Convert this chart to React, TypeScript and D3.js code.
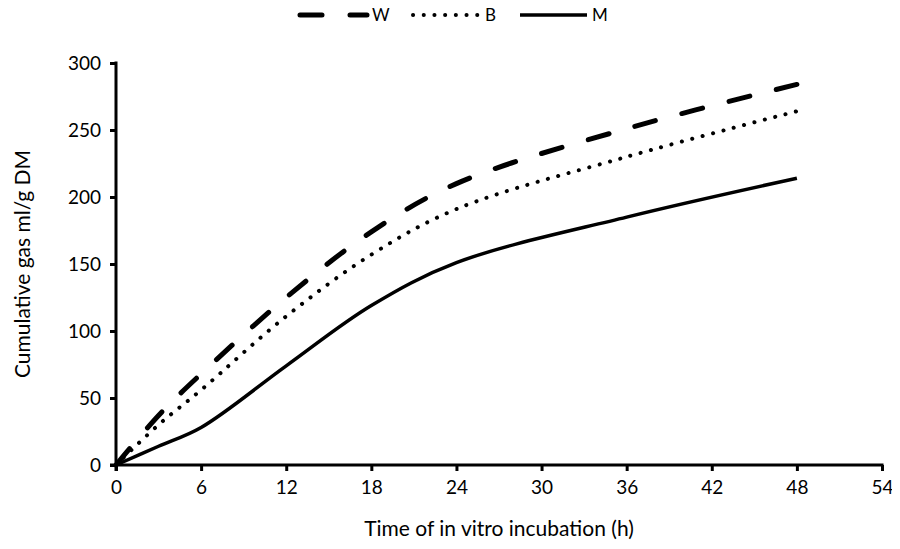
import React, { useEffect, useRef } from "react";
import * as d3 from "d3";

// incubation times (h) and cumulative gas (ml/g DM)
const hours = [0, 3, 6, 12, 18, 24, 36, 48];
const seriesW = [0, 37, 68, 125, 174, 210, 251, 284];
const seriesB = [0, 30, 56, 111, 157, 191, 230, 264];
const seriesM = [0, 14, 28, 74, 119, 151, 185, 214];
const xTicks = [0, 6, 12, 18, 24, 30, 36, 42, 48, 54];
const yTicks = [0, 50, 100, 150, 200, 250, 300];

const font = "Lato, 'Open Sans', sans-serif";

const App = () => {
  const ref = useRef<SVGSVGElement>(null);

  useEffect(() => {
    const width = 900;
    const height = 549;
    const svg = d3.select(ref.current);
    svg.selectAll("*").remove();
    svg.attr("width", width).attr("height", height);

    const x = d3.scaleLinear().domain([0, 54]).range([116, 882]);
    const y = d3.scaleLinear().domain([0, 300]).range([465, 63]);

    const series = [
      { name: "W", values: seriesW, width: 5, dash: "22,28", cap: "round" },
      { name: "B", values: seriesB, width: 4, dash: "0.1,10.6", cap: "round" },
      { name: "M", values: seriesM, width: 3.5, dash: null, cap: "butt" },
    ];

    // axes
    const xAxis = svg.append("g")
      .attr("transform", `translate(0, ${y(0)})`)
      .call(d3.axisBottom(x).tickValues(xTicks).tickSize(6).tickPadding(10).tickFormat(d3.format("d")));
    const yAxis = svg.append("g")
      .attr("transform", `translate(${x(0)}, 0)`)
      .call(d3.axisLeft(y).tickValues(yTicks).tickSize(6).tickPadding(9).tickFormat(d3.format("d")));

    [xAxis, yAxis].forEach(g => {
      g.select(".domain").remove();
      g.selectAll(".tick line").attr("stroke", "#000").attr("stroke-width", 3);
      g.selectAll(".tick text")
        .attr("fill", "#000")
        .style("font-family", font)
        .style("font-size", "19px");
    });
    // axis lines without the outer ticks
    svg.append("line")
      .attr("x1", x(0) - 6).attr("x2", x(54) + 1.5)
      .attr("y1", y(0)).attr("y2", y(0))
      .attr("stroke", "#000").attr("stroke-width", 3);
    svg.append("line")
      .attr("x1", x(0)).attr("x2", x(0))
      .attr("y1", y(300) - 1.5).attr("y2", y(0) + 6)
      .attr("stroke", "#000").attr("stroke-width", 3);

    // lines
    const line = d3.line<number>()
      .x((_, i) => x(hours[i]))
      .y(d => y(d))
      .curve(d3.curveCatmullRom.alpha(0.5));

    series.forEach(s => {
      const path = svg.append("path")
        .datum(s.values)
        .attr("d", line)
        .attr("fill", "none")
        .attr("stroke", "#000")
        .attr("stroke-width", s.width)
        .attr("stroke-linecap", s.cap)
        .attr("stroke-linejoin", "round")
        .attr("stroke-dasharray", s.dash);
      if (s.name === "W") {
        // stretch the dash period a little so the line starts and ends on a dash
        const len = (path.node() as SVGPathElement).getTotalLength();
        const n = Math.round((len - 22) / 50);
        const p = len / (n + 0.44);
        path.attr("stroke-dasharray", `${0.44 * p},${0.56 * p}`);
      }
    });

    // axis titles
    svg.append("text")
      .attr("x", (x(0) + x(54)) / 2)
      .attr("y", 536)
      .attr("text-anchor", "middle")
      .style("font-family", font)
      .style("font-size", "21px")
      .text("Time of in vitro incubation (h)");
    svg.append("text")
      .attr("transform", `translate(30, ${(y(0) + y(300)) / 2}) rotate(-90)`)
      .attr("text-anchor", "middle")
      .style("font-family", font)
      .style("font-size", "21px")
      .text("Cumulative gas ml/g DM");

    // legend
    const legendX = [300, 413, 520];
    const legend = svg.append("g").attr("transform", "translate(0, 15)");
    series.forEach((s, i) => {
      legend.append("line")
        .attr("x1", legendX[i]).attr("x2", legendX[i] + 67)
        .attr("y1", 0).attr("y2", 0)
        .attr("stroke", "#000")
        .attr("stroke-width", s.width)
        .attr("stroke-linecap", s.cap)
        .attr("stroke-dasharray", s.dash);
      legend.append("text")
        .attr("x", legendX[i] + 72)
        .attr("y", 6)
        .style("font-family", font)
        .style("font-size", "17px")
        .text(s.name);
    });
  }, []);

  return <svg ref={ref} style={{ display: "block", margin: "-8px" }}></svg>;
};

export default App;
